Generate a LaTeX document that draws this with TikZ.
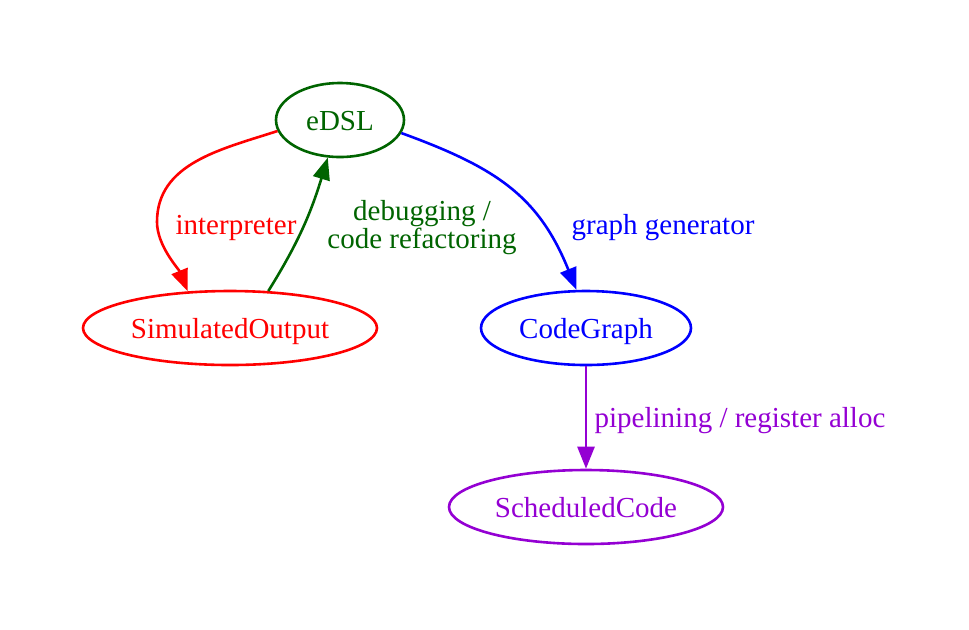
\documentclass[tikz,border=0pt]{standalone}
\usepackage{fontspec}
\setmainfont{Liberation Serif}
\usetikzlibrary{arrows.meta,shapes.geometric}
\definecolor{dkgreen}{RGB}{0,100,0}
\definecolor{dkviolet}{RGB}{148,0,211}

\tikzset{
  stage/.style={draw, ellipse, line width=1.3pt, inner sep=0pt, minimum height=37pt, text height=11pt, text depth=1pt, font=\fontsize{14.5}{17}\selectfont},
  flow/.style={line width=1.3pt, -{Triangle[length=11pt,width=8.5pt]}},
  lbl/.style={font=\fontsize{14.5}{14}\selectfont, align=center, inner sep=0pt}
}

\begin{document}
\begin{tikzpicture}[x=0.5pt,y=0.5pt]
\useasboundingbox (0,0) rectangle (969,-629);
% nodes
\node[stage, color=dkgreen, minimum width=64pt] (edsl) at (340,-120) {eDSL};
\node[stage, color=red, minimum width=147pt] (simout) at (230,-328) {SimulatedOutput};
\node[stage, color=blue, minimum width=105pt] (codegraph) at (586,-328) {CodeGraph};
\node[stage, color=dkviolet, minimum width=137pt] (sched) at (586,-507) {ScheduledCode};
\coordinate (interpbend) at (157,-222);
% edges
\draw[flow, red] (edsl.190) to[out=198, in=90] (interpbend) to[out=-90, in=112, looseness=0.8] (simout.139);
\draw[flow, dkgreen] (simout.44) to[out=58, in=253] (edsl.252);
\draw[flow, blue] (edsl.348) to[out=-20, in=112, looseness=1.1] (codegraph.104);
\draw[flow, dkviolet] (codegraph.south) -- (sched.north);
% labels
\node[lbl, red] (l-interp) at (236,-228) {interpreter};
\node[lbl, dkgreen] (l-debug) at (422,-228) {debugging /\\code refactoring};
\node[lbl, blue] (l-gen) at (663,-228) {graph generator};
\node[lbl, dkviolet] (l-pipe) at (740,-421) {pipelining / register alloc};
\end{tikzpicture}
\end{document}
